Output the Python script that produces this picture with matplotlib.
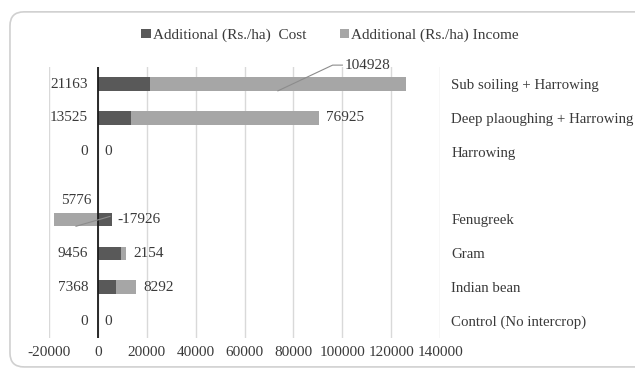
import numpy as np
import matplotlib
matplotlib.use("Agg")
import matplotlib.pyplot as plt
from matplotlib.patches import FancyBboxPatch

# Rows from bottom to top; the empty row is a spacer between intercrops and tillage
categories = ["Control (No intercrop)", "Indian bean", "Gram", "Fenugreek", "",
              "Harrowing", "Deep plaoughing + Harrowing", "Sub soiling + Harrowing"]
cost = [0, 7368, 9456, 5776, np.nan, 0, 13525, 21163]
income = [0, 8292, 2154, -17926, np.nan, 0, 76925, 104928]
xticks = [-20000, 0, 20000, 40000, 60000, 80000, 100000, 120000, 140000]

DARK = "#595959"
LIGHT = "#a6a6a6"
TXT = "#3a3a3a"
FS = 11
plt.rcParams["font.family"] = ["Liberation Serif", "DejaVu Serif"]

fig = plt.figure(figsize=(6.35, 3.71), dpi=100)
ax = fig.add_axes([0.0772, 0.089, 0.616, 0.730])

y = np.arange(len(categories))
cost_a = np.array(cost, dtype=float)
inc_a = np.array(income, dtype=float)
# negative income starts at zero, positive income is stacked on cost
left_inc = np.where(inc_a < 0, 0, cost_a)

ax.barh(y, inc_a, left=left_inc, height=0.4, color=LIGHT, zorder=2,
        label="Additional (Rs./ha) Income")
ax.barh(y, cost_a, height=0.4, color=DARK, zorder=3,
        label="Additional (Rs./ha)  Cost")

ax.set_xlim(-20000, 140000)
ax.set_ylim(-0.5, len(categories) - 0.5)
ax.set_xticks(xticks)
ax.set_xticklabels([str(t) for t in xticks], fontsize=FS, color=TXT)
ax.tick_params(axis="x", length=0, pad=6)
ax.yaxis.tick_right()
ax.set_yticks(y)
ax.set_yticklabels(categories, fontsize=10.7, color=TXT, ha="left")
ax.tick_params(axis="y", length=0, pad=8)
for s in ax.spines.values():
    s.set_visible(False)
ax.grid(axis="x", color="#d9d9d9", lw=1, zorder=0)
ax.axvline(0, color="#1a1a1a", lw=1.3, zorder=4)

for yi, c, inc in zip(y, cost_a, inc_a):
    if np.isnan(c):
        continue
    mid = (c + (c + inc)) / 2 if inc >= 0 else inc / 2
    if categories[yi] == "Sub soiling + Harrowing":
        # label lifted above the bar with a leader line
        tip = (101000, yi + 0.56)
        ax.plot([mid, 96000, tip[0] - 1000], [yi - 0.2, yi + 0.56, yi + 0.56],
                color="#8c8c8c", lw=0.8, zorder=5, clip_on=False)
        ax.text(tip[0], tip[1], f"{inc:.0f}", fontsize=FS, color=TXT,
                ha="left", va="center", clip_on=False)
    elif inc < 0:
        ax.plot([mid, 4900], [yi - 0.2, yi + 0.09], color="#8c8c8c", lw=0.8, zorder=5)
        ax.text(7800, yi, f"{inc:.0f}", fontsize=FS, color=TXT,
                ha="left", va="center")
    else:
        ax.annotate(f"{inc:.0f}", xy=(c + inc, yi), xytext=(5, 0),
                    textcoords="offset points", fontsize=FS, color=TXT,
                    ha="left", va="center")
    if inc < 0:
        ax.text(-2400, yi + 0.56, f"{c:.0f}", fontsize=FS, color=TXT,
                ha="right", va="center")
    else:
        ax.annotate(f"{c:.0f}", xy=(0, yi), xytext=(-7, 0),
                    textcoords="offset points", fontsize=FS, color=TXT,
                    ha="right", va="center")

handles, labels = ax.get_legend_handles_labels()
fig.legend(handles[::-1], labels[::-1], loc="center", bbox_to_anchor=(0.52, 0.905),
           ncol=2, frameon=False, fontsize=FS, handlelength=0.6, handleheight=0.6,
           handletextpad=0.15, columnspacing=2.2, labelcolor=TXT)

border = FancyBboxPatch((0.0157, 0.011), 1.2, 0.957, transform=fig.transFigure,
                        boxstyle="round,pad=0,rounding_size=0.022",
                        mutation_aspect=635 / 371, fc="none", ec="#d0d0d0", lw=1.2,
                        zorder=0)
fig.patches.append(border)

fig.savefig("out.png", dpi=100)
plt.close(fig)
